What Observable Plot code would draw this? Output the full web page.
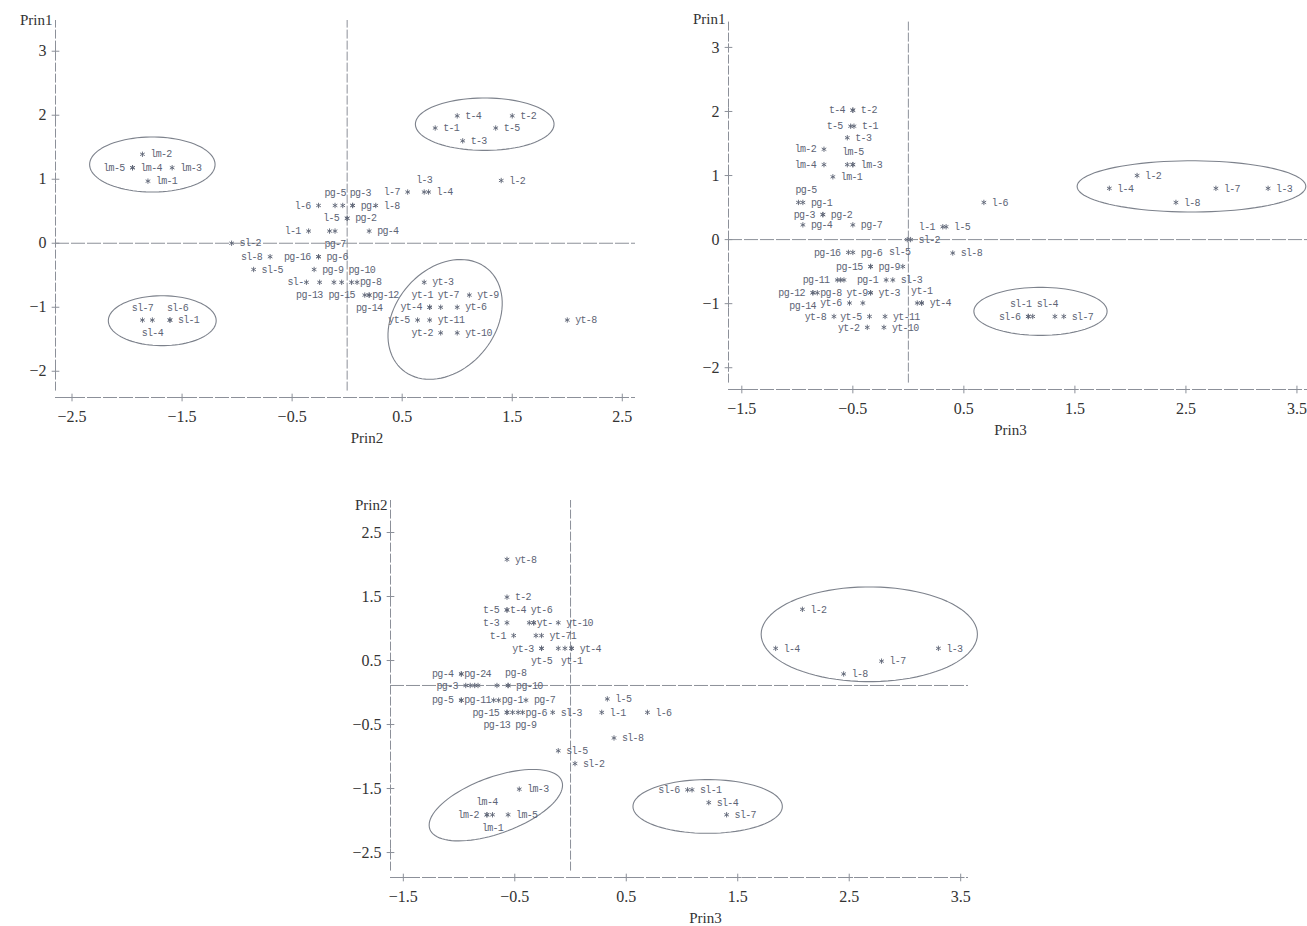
<!DOCTYPE html>
<html><head><meta charset="utf-8">
<script src="https://cdn.jsdelivr.net/npm/d3@7"></script>
<script src="https://cdn.jsdelivr.net/npm/@observablehq/plot@0.6"></script>
<style>
html,body{margin:0;padding:0;background:#fff;}
body{width:1307px;height:926px;position:relative;overflow:hidden;}
.panel{position:absolute;}
.panel svg{max-width:none;}
g[font-family="Liberation Mono"] text{letter-spacing:-0.7px;}
</style></head><body>
<div id="p1" class="panel" style="left:0px;top:0px;width:650px;"></div>
<div id="p2" class="panel" style="left:650px;top:0px;width:657px;"></div>
<div id="p3" class="panel" style="left:330px;top:490px;width:650px;"></div>
<script>
// ---------- DATA (label as printed, x, y, label side) ----------
// Panel 1: Prin1 (y) vs Prin2 (x)
const panel1Points = [
  ["lm-2",-1.86,1.39,"r"],["lm-5",-1.95,1.18,"l"],["lm-4",-1.95,1.18,"r"],["lm-3",-1.59,1.18,"r"],["lm-1",-1.81,0.97,"r"],
  ["t-4",1.00,1.99,"r"],["t-2",1.50,1.99,"r"],["t-1",0.80,1.80,"r"],["t-5",1.35,1.80,"r"],["t-3",1.05,1.60,"r"],
  ["l-2",1.40,0.98,"r"],["l-3",0.70,0.80,"u"],["l-4",0.74,0.80,"r"],["l-7",0.55,0.80,"l"],
  ["l-6",-0.26,0.59,"l"],["",-0.11,0.59,""],["pg-5",-0.04,0.59,"ul"],["pg-3",0.05,0.59,"ur"],["pg-",0.05,0.59,"r"],["l-8",0.26,0.59,"r"],
  ["l-5",0.0,0.39,"l"],["pg-2",0.0,0.39,"r"],
  ["l-1",-0.35,0.19,"l"],["",-0.16,0.19,""],["pg-7",-0.11,0.19,"d"],["pg-4",0.20,0.19,"r"],
  ["sl-2",-1.05,0.0,"r"],
  ["sl-8",-0.70,-0.21,"l"],["pg-16",-0.26,-0.21,"l"],["pg-6",-0.26,-0.21,"r"],
  ["sl-5",-0.85,-0.41,"r"],["pg-9",-0.30,-0.41,"r"],
  ["sl-",-0.37,-0.61,"l0"],["pg-13",-0.25,-0.61,"dl"],["",-0.12,-0.61,""],["pg-15",-0.05,-0.61,"d"],["pg-10",0.04,-0.61,"ur"],["pg-8",0.09,-0.61,"r0"],
  ["",0.16,-0.81,""],["pg-12",0.20,-0.81,"r0"],["pg-14",0.20,-0.81,"d"],
  ["yt-3",0.70,-0.61,"r"],["yt-9",1.11,-0.81,"r"],
  ["yt-4",0.75,-1.0,"l"],["yt-1",0.75,-1.0,"ul"],["yt-7",0.85,-1.0,"ur"],["yt-6",1.00,-1.0,"r"],
  ["yt-5",0.64,-1.20,"l"],["yt-11",0.75,-1.20,"r"],["yt-2",0.85,-1.40,"l"],["yt-10",1.00,-1.40,"r"],
  ["yt-8",2.00,-1.20,"r"],
  ["sl-7",-1.86,-1.20,"u"],["sl-4",-1.77,-1.20,"d"],["sl-6",-1.61,-1.20,"ur"],["sl-1",-1.61,-1.20,"r"]
];
// Panel 2: Prin1 (y) vs Prin3 (x)
const panel2Points = [
  ["t-4",-0.50,2.02,"l"],["t-2",-0.50,2.02,"r"],["t-5",-0.52,1.77,"l"],["t-1",-0.49,1.77,"r"],["t-3",-0.55,1.59,"r"],
  ["lm-2",-0.76,1.41,"l"],["lm-4",-0.76,1.17,"l"],["",-0.55,1.17,""],["lm-5",-0.50,1.17,"u"],["lm-3",-0.50,1.17,"r"],["lm-1",-0.68,0.98,"r"],
  ["pg-5",-0.99,0.58,"ur"],["pg-1",-0.95,0.58,"r"],["pg-3",-0.77,0.39,"l"],["pg-2",-0.77,0.39,"r"],
  ["pg-4",-0.95,0.23,"r"],["pg-7",-0.50,0.23,"r"],["l-1",0.31,0.20,"l"],["l-5",0.34,0.20,"r"],
  ["sl-5",-0.01,0.0,"dl"],["sl-2",0.02,0.0,"r"],
  ["pg-16",-0.54,-0.20,"l"],["pg-6",-0.50,-0.20,"r"],["sl-8",0.40,-0.21,"r"],
  ["pg-15",-0.34,-0.42,"l"],["pg-9",-0.34,-0.42,"r"],["",-0.05,-0.42,""],
  ["pg-11",-0.64,-0.63,"l"],["",-0.61,-0.63,""],["",-0.58,-0.63,""],["pg-1",-0.20,-0.63,"l"],["sl-3",-0.14,-0.63,"r"],
  ["pg-12",-0.86,-0.83,"l"],["pg-14",-0.86,-0.83,"dl"],["pg-8",-0.82,-0.83,"r0"],["yt-9",-0.34,-0.83,"l0"],["yt-3",-0.34,-0.83,"r"],
  ["yt-6",-0.53,-0.99,"l"],["",-0.41,-0.99,""],["",0.08,-0.99,""],["yt-1",0.12,-0.99,"u"],["yt-4",0.12,-0.99,"r"],
  ["yt-8",-0.67,-1.20,"l"],["yt-5",-0.35,-1.20,"l"],["yt-11",-0.21,-1.20,"r"],
  ["yt-2",-0.37,-1.37,"l"],["yt-10",-0.22,-1.37,"r"],
  ["l-2",2.06,1.0,"r"],["l-4",1.81,0.80,"r"],["l-7",2.77,0.80,"r"],["l-3",3.24,0.80,"r"],["l-8",2.41,0.58,"r"],["l-6",0.68,0.58,"r"],
  ["sl-6",1.08,-1.20,"l"],["sl-1",1.08,-1.20,"ul"],["",1.12,-1.20,""],["sl-4",1.32,-1.20,"ul"],["sl-7",1.40,-1.20,"r"]
];
// Panel 3: Prin2 (y) vs Prin3 (x)
const panel3Points = [
  ["yt-8",-0.57,2.08,"r"],["t-2",-0.57,1.49,"r"],["t-5",-0.57,1.29,"l"],["t-4",-0.57,1.29,"r0"],
  ["t-3",-0.57,1.09,"l"],["",-0.37,1.09,""],["yt-6",-0.33,1.09,"ur"],["yt-",-0.33,1.09,"r0"],["yt-10",-0.11,1.09,"r"],
  ["t-1",-0.51,0.89,"l"],["",-0.31,0.89,""],["yt-71",-0.26,0.89,"r"],
  ["yt-3",-0.26,0.69,"l"],["yt-5",-0.26,0.69,"d"],["",-0.11,0.69,""],["",-0.05,0.69,""],["yt-4",0.01,0.69,"r"],["yt-1",0.01,0.69,"d"],
  ["pg-4",-0.98,0.29,"l"],["pg-24",-0.98,0.29,"r0"],
  ["pg-3",-0.94,0.11,"l"],["",-0.90,0.11,""],["",-0.86,0.11,""],["",-0.83,0.11,""],["",-0.66,0.11,""],["pg-8",-0.56,0.11,"ur"],["pg-10",-0.56,0.11,"r"],
  ["pg-5",-0.98,-0.12,"l"],["pg-11",-0.98,-0.12,"r0"],["",-0.69,-0.12,""],["pg-1",-0.645,-0.12,"r0"],["pg-7",-0.40,-0.12,"r"],
  ["pg-15",-0.57,-0.31,"l"],["pg-13",-0.57,-0.31,"dl"],["",-0.52,-0.31,""],["pg-9",-0.47,-0.31,"dr"],["pg-6",-0.43,-0.31,"r0"],["sl-3",-0.16,-0.31,"r"],
  ["l-5",0.33,-0.10,"r"],["l-1",0.28,-0.31,"r"],["l-6",0.69,-0.31,"r"],
  ["sl-8",0.39,-0.71,"r"],["sl-5",-0.11,-0.91,"r"],["sl-2",0.04,-1.11,"r"],
  ["lm-3",-0.46,-1.51,"r"],["lm-2",-0.75,-1.91,"l"],["lm-4",-0.75,-1.91,"u"],["lm-1",-0.70,-1.91,"d"],["lm-5",-0.56,-1.91,"r"],
  ["sl-6",1.05,-1.52,"l"],["sl-1",1.09,-1.52,"r"],["sl-4",1.24,-1.72,"r"],["sl-7",1.40,-1.91,"r"],
  ["l-2",2.08,1.30,"r"],["l-4",1.84,0.69,"r"],["l-3",3.30,0.69,"r"],["l-7",2.79,0.49,"r"],["l-8",2.45,0.29,"r"]
];
// Group ellipses: [centre x, centre y, semi-axis a (x units), semi-axis b (y units), rotation deg]
const ellipses1 = [[-1.77,1.23,0.57,0.43,0],[1.25,1.86,0.63,0.41,0],[-1.68,-1.21,0.49,0.39,0],[0.89,-1.19,0.60,0.78,-50]];
const ellipses2 = [[2.55,0.83,1.03,0.40,0],[1.19,-1.12,0.60,0.375,0]];
const ellipses3 = [[2.68,0.91,0.97,0.74,0],[-0.67,-1.76,0.63,0.44,-20],[1.23,-1.78,0.67,0.42,0]];
// Tick values
const ticks1X = [-2.5,-1.5,-0.5,0.5,1.5,2.5];
const ticks1Y = [3,2,1,0,-1,-2];
const ticks2X = [-1.5,-0.5,0.5,1.5,2.5,3.5];
const ticks2Y = [3,2,1,0,-1,-2];
const ticks3X = [-1.5,-0.5,0.5,1.5,2.5,3.5];
const ticks3Y = [2.5,1.5,0.5,-0.5,-1.5,-2.5];

// ---------- STYLE ----------
const LABEL = "#5d6475", LINE = "#8c9099", AXIS_TXT = "#333";
const SIDES = {
  r:{dx:8,dy:0,a:"start"}, l:{dx:-8,dy:0,a:"end"},
  r0:{dx:3,dy:0,a:"start"}, l0:{dx:-3,dy:0,a:"end"},
  u:{dx:0,dy:-12.7,a:"middle"}, ur:{dx:-3,dy:-12.7,a:"start"}, ul:{dx:3,dy:-12.7,a:"end"},
  d:{dx:0,dy:12.7,a:"middle"}, dr:{dx:-3,dy:12.7,a:"start"}, dl:{dx:3,dy:12.7,a:"end"}
};

function panel(cfg){
  const {pts, ells, tx, ty, xDom, yDom, width, height, m, hLine, xTitle, xTitleX, yTitle, yTitleDy} = cfg;
  const kx = (width - m.l - m.r)/(xDom[1]-xDom[0]);
  const ky = (height - m.t - m.b)/(yDom[1]-yDom[0]);
  const ellPts = [];
  ells.forEach((e,i)=>{
    const [cx,cy,a,b,ang] = e, phi = ang*Math.PI/180;
    for(let k=0;k<=90;k++){
      const t = k/90*2*Math.PI;
      const u = a*kx*Math.cos(t), v = b*ky*Math.sin(t);
      const pu = u*Math.cos(phi) - v*Math.sin(phi), pv = u*Math.sin(phi) + v*Math.cos(phi);
      ellPts.push({id:i, x: cx + pu/kx, y: cy - pv/ky});
    }
  });
  const xL = xDom[0], yB = yDom[0], yT = yDom[1];
  const marks = [
    Plot.ruleX([xL],{y1:yB+0.1,y2:yT,stroke:LINE,strokeWidth:1,strokeDasharray:"9,2"}),
    Plot.ruleY([yB],{stroke:LINE,strokeWidth:1,strokeDasharray:"14,2"}),
    Plot.ruleX([0],{y1:yB+0.1,y2:yT,stroke:LINE,strokeWidth:1,strokeDasharray:"9,2"}),
    Plot.ruleY([hLine],{stroke:LINE,strokeWidth:1,strokeDasharray:"14,2"}),
    Plot.dot(ty,{x:()=>xL,y:d=>d,symbol:"plus",r:2.6,stroke:LINE,strokeWidth:1}),
    Plot.dot(tx,{x:d=>d,y:()=>yB,symbol:"plus",r:2.6,stroke:LINE,strokeWidth:1}),
    Plot.text(ty,{x:()=>xL,y:d=>d,text:d=>String(d).replace("-","\u2212"),dx:-9,textAnchor:"end",fontFamily:"Liberation Serif",fontSize:16,fill:AXIS_TXT}),
    Plot.text(tx,{x:d=>d,y:()=>yB,text:d=>String(d).replace("-","\u2212"),dy:19,textAnchor:"middle",fontFamily:"Liberation Serif",fontSize:16,fill:AXIS_TXT}),
    Plot.text([yTitle],{x:()=>xL,y:()=>yT,text:d=>d,dx:-3,dy:yTitleDy,textAnchor:"end",fontFamily:"Liberation Serif",fontSize:15,fill:AXIS_TXT}),
    Plot.text([xTitle],{x:()=>xTitleX,y:()=>yB,text:d=>d,dy:41,textAnchor:"middle",fontFamily:"Liberation Serif",fontSize:15,fill:AXIS_TXT}),
    Plot.line(ellPts,{x:"x",y:"y",z:"id",stroke:"#7d828c",strokeWidth:1.1}),
    Plot.dot(pts,{x:d=>d[1],y:d=>d[2],symbol:"asterisk",r:2.5,stroke:LABEL,strokeWidth:0.9})
  ];
  for(const [key,s] of Object.entries(SIDES)){
    marks.push(Plot.text(pts.filter(p=>p[3]===key && p[0]),{
      x:d=>d[1], y:d=>d[2], text:d=>d[0], dx:s.dx, dy:s.dy, textAnchor:s.a,
      fontFamily:"Liberation Mono", fontSize:10, fill:LABEL
    }));
  }
  return Plot.plot({
    width, height, marginLeft:m.l, marginRight:m.r, marginTop:m.t, marginBottom:m.b,
    x:{domain:xDom, axis:null}, y:{domain:yDom, axis:null},
    style:{background:"#fff", overflow:"visible"},
    marks
  });
}

document.getElementById("p1").append(panel({
  pts:panel1Points, ells:ellipses1, tx:ticks1X, ty:ticks1Y,
  xDom:[-2.65,2.62], yDom:[-2.41,3.48], width:650, height:450, m:{l:55,r:15,t:20,b:53},
  hLine:0, xTitle:"Prin2", xTitleX:0.18, yTitle:"Prin1", yTitleDy:0
}));
document.getElementById("p2").append(panel({
  pts:panel2Points, ells:ellipses2, tx:ticks2X, ty:ticks2Y,
  xDom:[-1.62,3.595], yDom:[-2.34,3.42], width:657, height:450, m:{l:78,r:0,t:20,b:61},
  hLine:0, xTitle:"Prin3", xTitleX:0.92, yTitle:"Prin1", yTitleDy:-1
}));
document.getElementById("p3").append(panel({
  pts:panel3Points, ells:ellipses3, tx:ticks3X, ty:ticks3Y,
  xDom:[-1.615,3.57], yDom:[-2.89,3.0], width:650, height:436, m:{l:60,r:12,t:10,b:49},
  hLine:0.11, xTitle:"Prin3", xTitleX:1.21, yTitle:"Prin2", yTitleDy:5
}));
</script>
</body></html>
